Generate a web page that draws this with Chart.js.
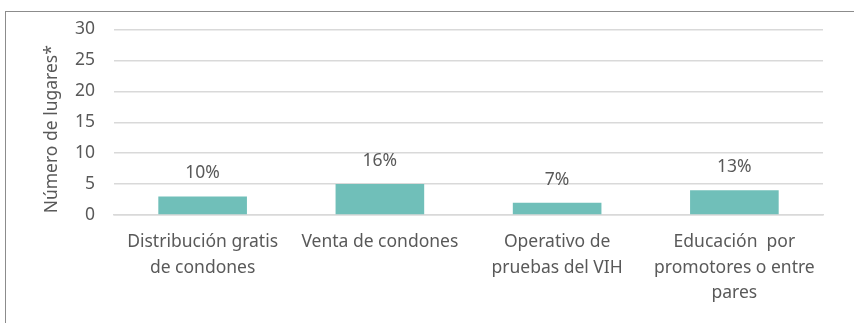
<!DOCTYPE html>
<html>
<head>
<meta charset="utf-8">
<script src="https://cdn.jsdelivr.net/npm/chart.js@4"></script>
<style>
    body { margin: 0; background: #fff; overflow: hidden; }
    .frame {
        position: absolute;
        left: 5px;
        top: 11px;
        width: 900px;
        height: 400px;
        border: 1px solid #8c8c8c;
    }
    .wrap { position: absolute; left: 0; top: 0; width: 854px; height: 323px; }
</style>
</head>
<body>
<div class="frame"></div>
<div class="wrap"><canvas id="lugares"></canvas></div>
<script>
const categories = [
    ['Distribución gratis', 'de condones'],
    ['Venta de condones'],
    ['Operativo de', 'pruebas del VIH'],
    ['Educación  por', 'promotores o entre', 'pares'],
]
const lugares = [3, 5, 2, 4]
const porcentajes = ['10%', '16%', '7%', '13%']
const yTicks = [0, 5, 10, 15, 20, 25, 30]
const yTitle = 'Número de lugares*'

const textGray = '#595959'
const gridGray = '#d9d9d9'
const teal = '#70bfb9'
const fontName = "'Noto Sans'"
const fontSize = 17.5

// percentage labels above each bar, plus the rotated y title
const barLabels = {
    id: 'barLabels',
    afterDatasetsDraw(chart) {
        const ctx = chart.ctx
        const meta = chart.getDatasetMeta(0)
        ctx.save()
        ctx.font = fontSize + 'px ' + fontName
        ctx.fillStyle = textGray
        ctx.textAlign = 'center'
        ctx.textBaseline = 'middle'
        meta.data.forEach((bar, i) => {
            ctx.fillText(porcentajes[i], bar.x, bar.y - 23)
        })
        const area = chart.chartArea
        ctx.translate(52, (area.top + area.bottom) / 2 + 7)
        ctx.rotate(-Math.PI / 2)
        ctx.fillText(yTitle, 0, 0)
        ctx.restore()
    },
}

new Chart(document.getElementById('lugares'), {
    type: 'bar',
    plugins: [barLabels],
    data: {
        labels: categories,
        datasets: [
            {
                data: lugares,
                backgroundColor: teal,
                barPercentage: 0.5,
                categoryPercentage: 1,
            },
        ],
    },
    options: {
        responsive: true,
        maintainAspectRatio: false,
        animation: false,
        layout: { padding: { left: 41, top: 29, right: 31, bottom: 0 } },
        plugins: {
            legend: { display: false },
            tooltip: { enabled: false },
        },
        scales: {
            x: {
                grid: { display: false, drawTicks: false },
                border: { color: gridGray, width: 1.5 },
                ticks: {
                    color: textGray,
                    font: { family: fontName, size: fontSize, lineHeight: 1.43 },
                    padding: 15,
                    maxRotation: 0,
                    autoSkip: false,
                },
                afterFit(scale) {
                    scale.height = 108
                },
            },
            y: {
                min: 0,
                max: 30,
                afterBuildTicks(scale) {
                    scale.ticks = yTicks.map((v) => ({ value: v }))
                },
                grid: { color: gridGray, lineWidth: 1.5, drawTicks: false },
                border: { display: false },
                ticks: {
                    color: textGray,
                    font: { family: fontName, size: fontSize },
                    padding: 19,
                },
                afterFit(scale) {
                    scale.width = 73
                },
            },
        },
    },
})
</script>
</body>
</html>
